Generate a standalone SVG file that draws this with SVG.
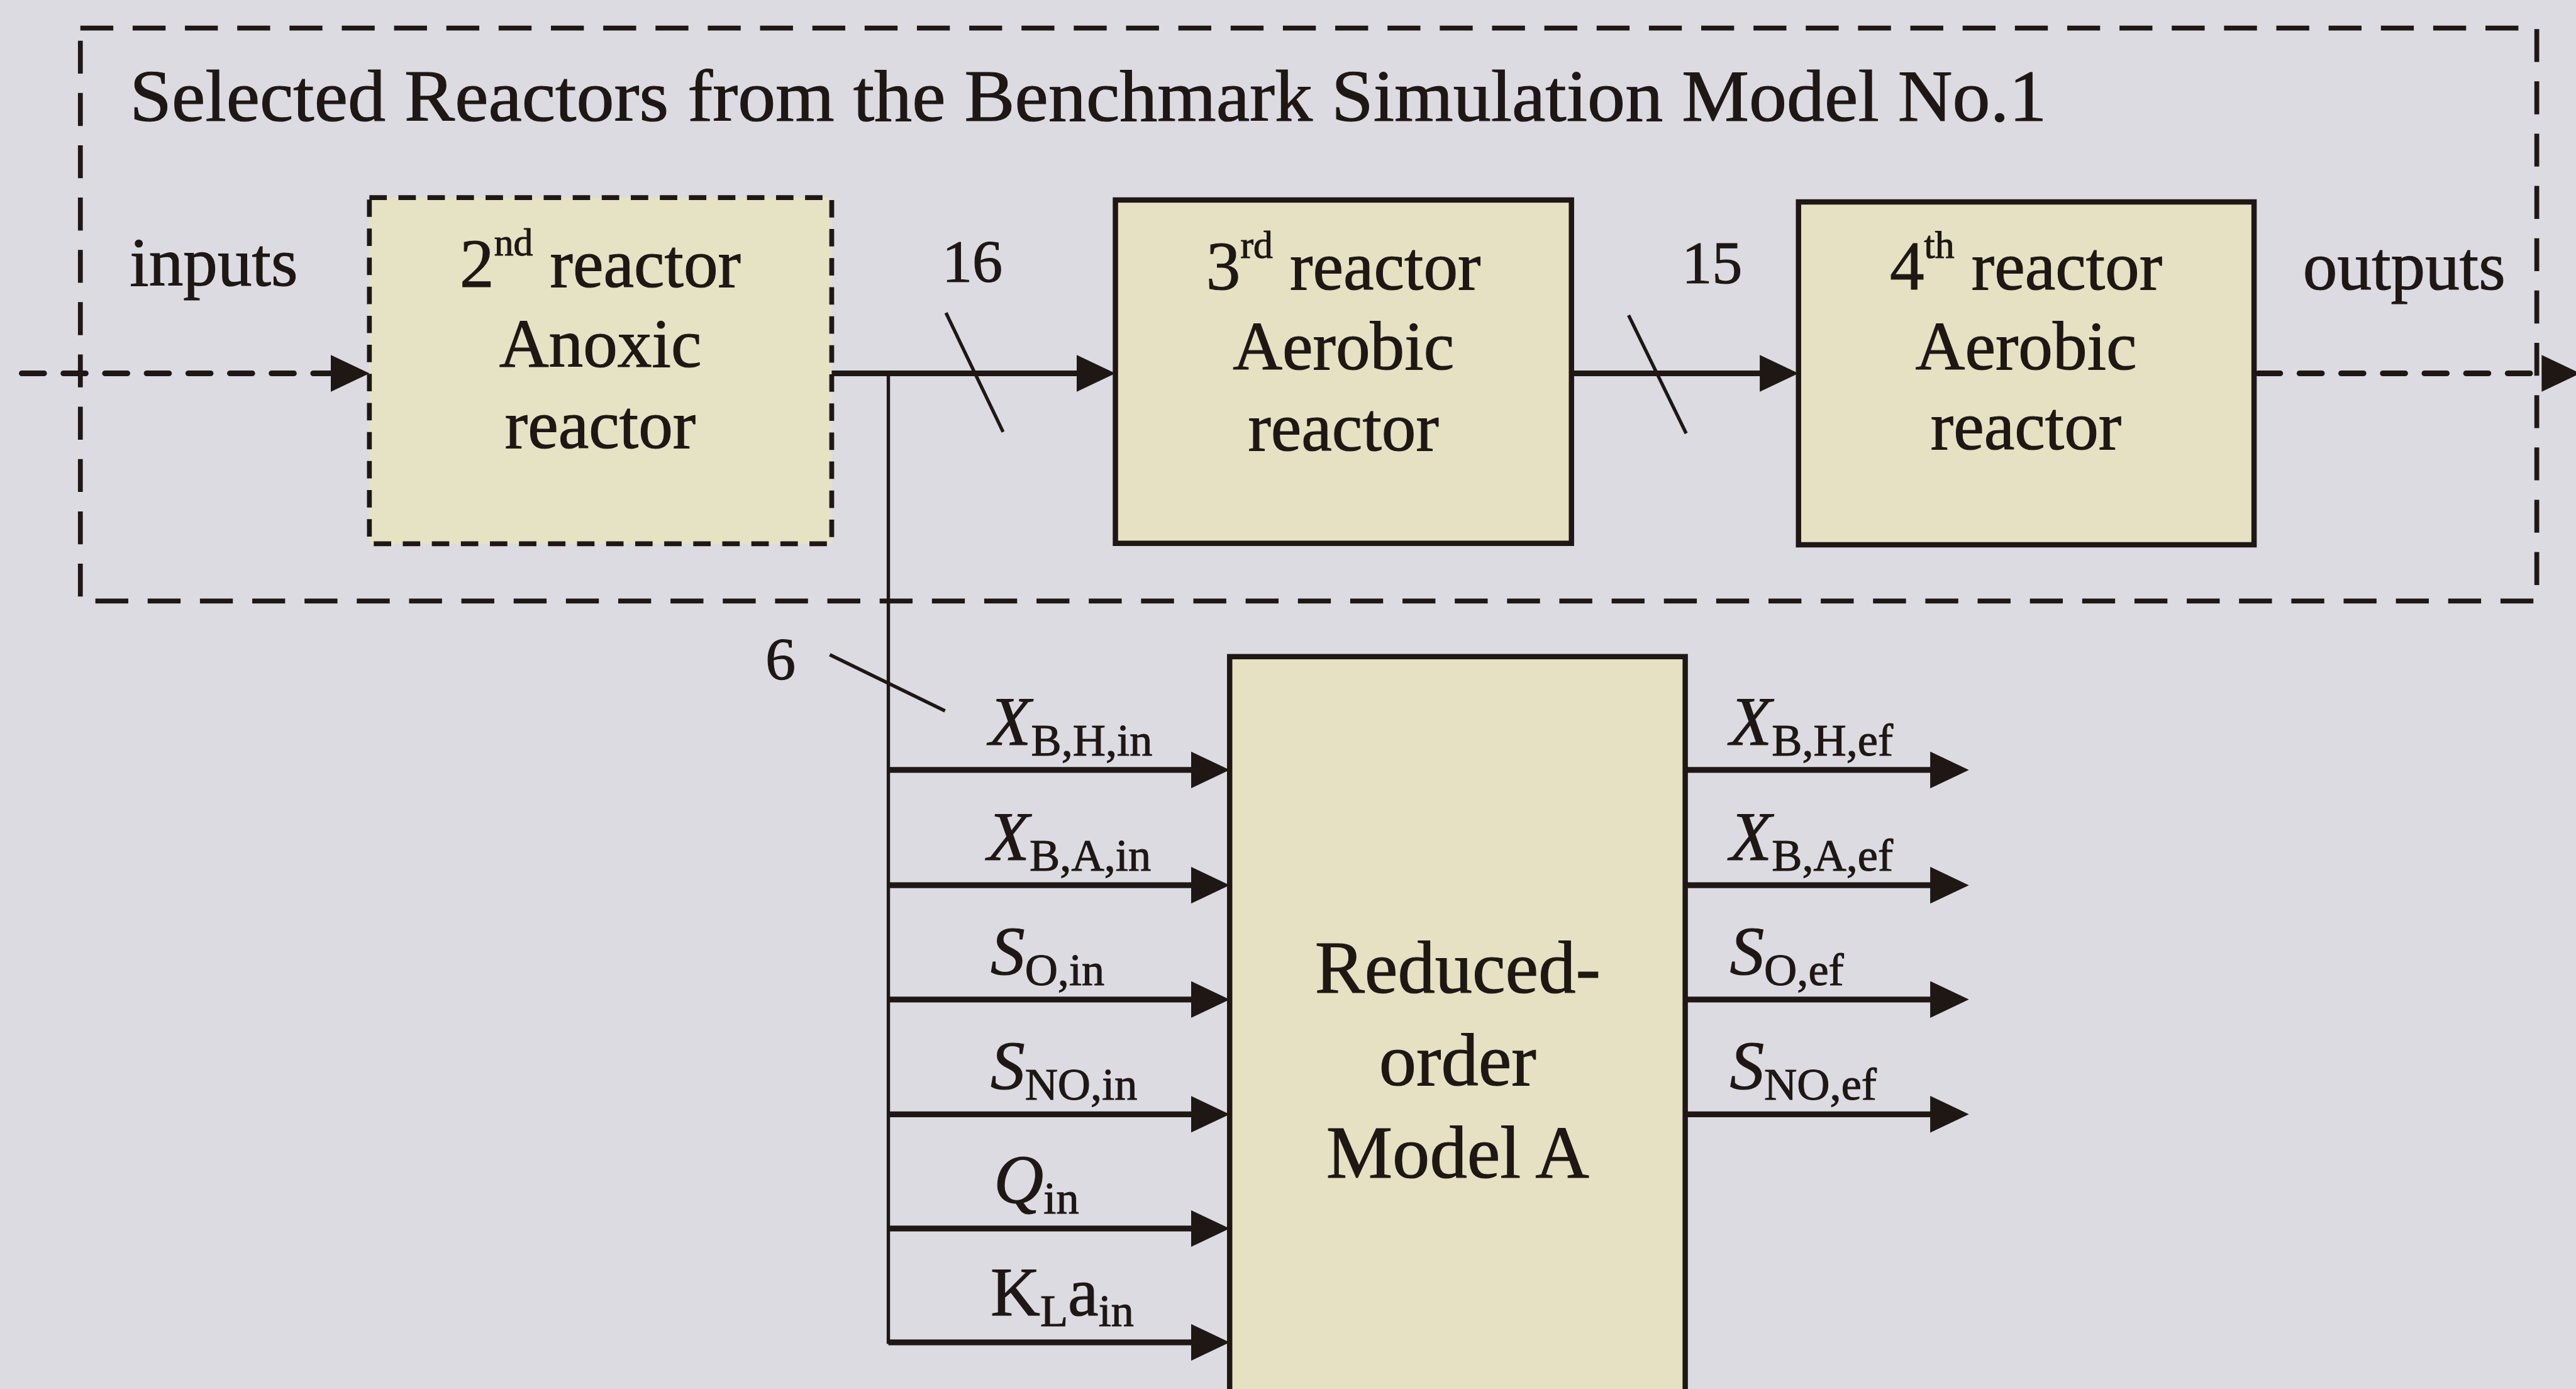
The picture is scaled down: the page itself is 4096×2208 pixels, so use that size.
<svg xmlns="http://www.w3.org/2000/svg" width="4096" height="2208" viewBox="0 0 4096 2208">
<defs>
<style>
.t{font-family:"Liberation Serif","Times New Roman",serif;fill:#1e1714;stroke:#1e1714;stroke-width:1.5}
.box{fill:#e5e1c2;stroke:#1e1714;stroke-width:11}
.dbox{fill:#e6e2c4;stroke:#1e1714;stroke-width:10;stroke-dasharray:36 24}
.frame{fill:none;stroke:#1e1714;stroke-width:10;stroke-dasharray:68 40}
.ln{fill:none;stroke:#1e1714;stroke-width:12}
.dl{fill:none;stroke:#1e1714;stroke-width:12;stroke-dasharray:46 40;stroke-linecap:round}
.thin{fill:none;stroke:#1e1714;stroke-width:7}
</style>
<marker id="ah" markerUnits="userSpaceOnUse" markerWidth="80" markerHeight="76" viewBox="0 0 80 76" refX="50" refY="38" orient="auto">
<path d="M0,0 L80,38 L0,76 Z" fill="#1e1714"/>
</marker>
</defs>
<rect width="4096" height="2208" fill="#dcdbe1"/>
<g transform="scale(0.76978)">
<g id="frame">
<rect class="frame" x="166" y="58" width="5074" height="1183"/>
<text class="t" x="268" y="249" font-size="150" textLength="3960" lengthAdjust="spacingAndGlyphs">Selected Reactors from the Benchmark Simulation Model No.1</text>
<text class="t" x="268" y="590" font-size="142">inputs</text>
<text class="t" x="4757" y="597" font-size="142">outputs</text>
</g>
<g id="reactor2">
<rect class="dbox" x="763" y="408" width="955" height="715"/>
<text class="t" x="1240" y="592" font-size="142" text-anchor="middle">2<tspan font-size="80" dy="-64">nd</tspan><tspan dy="64"> reactor</tspan></text>
<text class="t" x="1240" y="758" font-size="142" text-anchor="middle">Anoxic</text>
<text class="t" x="1240" y="925" font-size="142" text-anchor="middle">reactor</text>
</g>
<g id="reactor3">
<rect class="box" x="2304" y="413" width="942" height="709"/>
<text class="t" x="2775" y="597" font-size="142" text-anchor="middle">3<tspan font-size="80" dy="-64">rd</tspan><tspan dy="64"> reactor</tspan></text>
<text class="t" x="2775" y="763" font-size="142" text-anchor="middle">Aerobic</text>
<text class="t" x="2775" y="930" font-size="142" text-anchor="middle">reactor</text>
</g>
<g id="reactor4">
<rect class="box" x="3715" y="417" width="941" height="708"/>
<text class="t" x="4185" y="597" font-size="142" text-anchor="middle">4<tspan font-size="80" dy="-64">th</tspan><tspan dy="64"> reactor</tspan></text>
<text class="t" x="4185" y="763" font-size="142" text-anchor="middle">Aerobic</text>
<text class="t" x="4185" y="928" font-size="142" text-anchor="middle">reactor</text>
</g>
<g id="rom">
<rect class="box" x="2540" y="1356" width="941" height="1560"/>
<text class="t" x="3011" y="2050" font-size="154" text-anchor="middle">Reduced-</text>
<text class="t" x="3011" y="2241" font-size="154" text-anchor="middle">order</text>
<text class="t" x="3011" y="2432" font-size="154" text-anchor="middle">Model A</text>
</g>
<g id="connectors">
<line class="dl" x1="45" y1="771" x2="733" y2="771" marker-end="url(#ah)"/>
<line class="ln" x1="1718" y1="771" x2="2274" y2="771" marker-end="url(#ah)"/>
<line class="ln" x1="3246" y1="771" x2="3685" y2="771" marker-end="url(#ah)"/>
<line class="dl" x1="4664" y1="771" x2="5300" y2="771" marker-end="url(#ah)"/>
<line class="thin" x1="1954" y1="646" x2="2072" y2="892"/>
<line class="thin" x1="3364" y1="651" x2="3483" y2="895"/>
<line class="thin" x1="1835" y1="771" x2="1835" y2="2775"/>
<line class="thin" x1="1714" y1="1352" x2="1952" y2="1468"/>
<line class="ln" x1="1835" y1="1590" x2="2510" y2="1590" marker-end="url(#ah)"/>
<line class="ln" x1="1835" y1="1828" x2="2510" y2="1828" marker-end="url(#ah)"/>
<line class="ln" x1="1835" y1="2064" x2="2510" y2="2064" marker-end="url(#ah)"/>
<line class="ln" x1="1835" y1="2301" x2="2510" y2="2301" marker-end="url(#ah)"/>
<line class="ln" x1="1835" y1="2537" x2="2510" y2="2537" marker-end="url(#ah)"/>
<line class="ln" x1="1835" y1="2772" x2="2510" y2="2772" marker-end="url(#ah)"/>
<line class="ln" x1="3481" y1="1590" x2="4037" y2="1590" marker-end="url(#ah)"/>
<line class="ln" x1="3481" y1="1828" x2="4037" y2="1828" marker-end="url(#ah)"/>
<line class="ln" x1="3481" y1="2064" x2="4037" y2="2064" marker-end="url(#ah)"/>
<line class="ln" x1="3481" y1="2301" x2="4037" y2="2301" marker-end="url(#ah)"/>
</g>
<g id="labels">
<text class="t" x="1946" y="582" font-size="125">16</text>
<text class="t" x="3474" y="584" font-size="125">15</text>
<text class="t" x="1581" y="1403" font-size="125">6</text>
<text class="t" x="2043" y="1538" font-size="142"><tspan font-style="italic">X</tspan><tspan font-size="94" dy="22">B,H,in</tspan></text>
<text class="t" x="2040" y="1776" font-size="142"><tspan font-style="italic">X</tspan><tspan font-size="94" dy="22">B,A,in</tspan></text>
<text class="t" x="2046" y="2012" font-size="142"><tspan font-style="italic">S</tspan><tspan font-size="94" dy="22">O,in</tspan></text>
<text class="t" x="2046" y="2249" font-size="142"><tspan font-style="italic">S</tspan><tspan font-size="94" dy="22">NO,in</tspan></text>
<text class="t" x="2053" y="2484" font-size="142"><tspan font-style="italic">Q</tspan><tspan font-size="94" dy="22">in</tspan></text>
<text class="t" x="2046" y="2716" font-size="142">K<tspan font-size="94" dy="22">L</tspan><tspan dy="-22">a</tspan><tspan font-size="94" dy="22">in</tspan></text>
<text class="t" x="3573" y="1538" font-size="142"><tspan font-style="italic">X</tspan><tspan font-size="94" dy="22">B,H,ef</tspan></text>
<text class="t" x="3573" y="1776" font-size="142"><tspan font-style="italic">X</tspan><tspan font-size="94" dy="22">B,A,ef</tspan></text>
<text class="t" x="3573" y="2012" font-size="142"><tspan font-style="italic">S</tspan><tspan font-size="94" dy="22">O,ef</tspan></text>
<text class="t" x="3573" y="2249" font-size="142"><tspan font-style="italic">S</tspan><tspan font-size="94" dy="22">NO,ef</tspan></text>
</g>
</g>
</svg>
